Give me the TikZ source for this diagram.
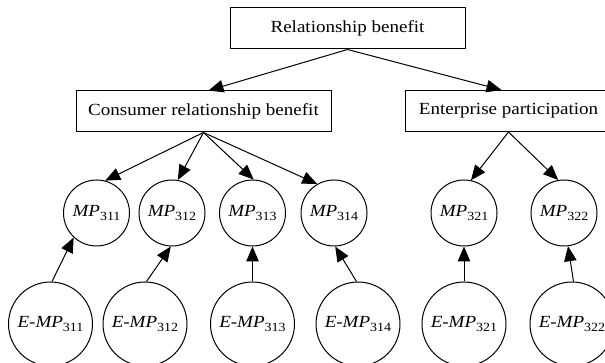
\documentclass[tikz,border=0pt]{standalone}
\usepackage{fontspec}
\setmainfont{Liberation Serif}[FakeStretch=1.12]
\usetikzlibrary{arrows.meta}

% italic MP with a lowered upright index
\newcommand{\mpsub}[1]{\textit{MP}\raisebox{-0.5ex}{\fontsize{12.5}{13}\selectfont #1}}

\begin{document}
\begin{tikzpicture}[x=1pt,y=-1pt,
  font=\fontsize{17}{20}\selectfont,
  every node/.style={inner sep=0pt},
  box/.style={draw, line width=1pt, minimum height=41pt},
  mp/.style={draw, circle, line width=1pt, minimum size=66pt},
  emp/.style={draw, circle, line width=1pt, minimum size=84pt},
  link/.style={line width=1pt, -{Triangle[length=15pt,width=12.5pt]}}]
\useasboundingbox (0,0) rectangle (605,363);

% boxes
\node[box, minimum width=235pt] (rb)  at (347.5,28.5) {Relationship benefit};
\node[box, minimum width=255pt] (crb) at (203.5,111.5) {Consumer relationship benefit};
\node[box, minimum width=207pt] (ep)  at (508.5,111) {Enterprise participation};

% indicator circles
\node[mp] (m311) at (96.5,213) {\mpsub{311}};
\node[mp] (m312) at (172,213)  {\mpsub{312}};
\node[mp] (m313) at (252.5,213) {\mpsub{313}};
\node[mp] (m314) at (334,213)  {\mpsub{314}};
\node[mp] (m321) at (464,213)  {\mpsub{321}};
\node[mp] (m322) at (564,213)  {\mpsub{322}};

% enterprise-side circles
\node[emp] (e311) at (50.5,324)  {\textit{E}-\mpsub{311}};
\node[emp] (e312) at (145,324)   {\textit{E}-\mpsub{312}};
\node[emp] (e313) at (252.5,324) {\textit{E}-\mpsub{313}};
\node[emp] (e314) at (358,324)   {\textit{E}-\mpsub{314}};
\node[emp] (e321) at (464,324)   {\textit{E}-\mpsub{321}};
\node[emp] (e322) at (572,324)   {\textit{E}-\mpsub{322}};

% top level
\draw[link] (rb.south) -- ([xshift=5pt]crb.north);
\draw[link] (rb.south) -- ([xshift=-7pt]ep.north);

% second level
\draw[link] (crb.south) -- (m311.75);
\draw[link] (crb.south) -- (m312.80);
\draw[link] (crb.south) -- (m313.88);
\draw[link] (crb.south) -- (m314.120);
\draw[link] (ep.south) -- (m321.78);
\draw[link] (ep.south) -- (m322.100);

% bottom level
\draw[link] (e311.88) -- (m311.227);
\draw[link] (e312.88) -- (m312.268);
\draw[link] (e313.north) -- (m313.south);
\draw[link] (e314.92) -- (m314.272);
\draw[link] (e321.north) -- (m321.south);
\draw[link] (e322.88) -- (m322.277);
\end{tikzpicture}
\end{document}
